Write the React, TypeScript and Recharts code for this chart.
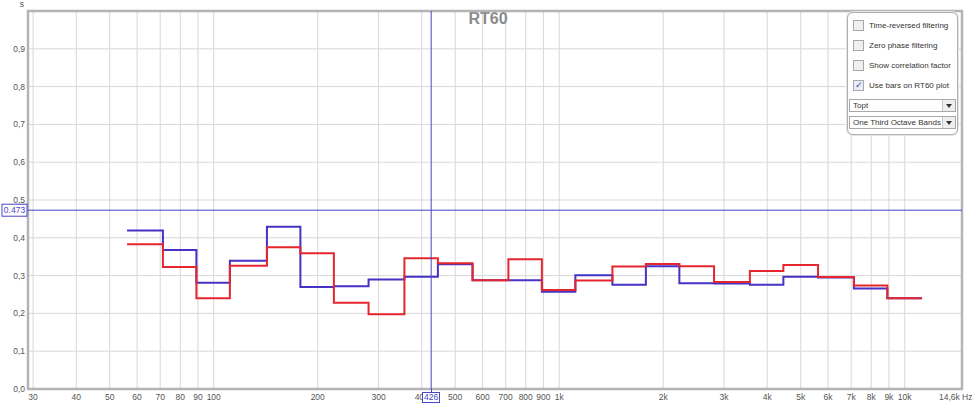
import { LineChart, Line, XAxis, YAxis, CartesianGrid, ReferenceLine, ReferenceArea } from 'recharts';

// one third octave band centres (Hz)
const bandCenters = [63, 80, 100, 125, 160, 200, 250, 315, 400, 500, 630, 800, 1000, 1250, 1600, 2000, 2500, 3150, 4000, 5000, 6300, 8000, 10000];

// RT60 per band (s)
const redRT60 = [0.383, 0.323, 0.240, 0.326, 0.375, 0.359, 0.228, 0.198, 0.346, 0.333, 0.288, 0.343, 0.262, 0.287, 0.324, 0.331, 0.325, 0.283, 0.312, 0.328, 0.296, 0.274, 0.240];
const blueRT60 = [0.419, 0.368, 0.281, 0.339, 0.429, 0.270, 0.272, 0.290, 0.297, 0.330, 0.288, 0.288, 0.257, 0.301, 0.276, 0.325, 0.280, 0.279, 0.276, 0.297, 0.295, 0.266, 0.240];

const xTicks = [30, 40, 50, 60, 70, 80, 90, 100, 200, 300, 400, 500, 600, 700, 800, 900, 1000, 2000, 3000, 4000, 5000, 6000, 7000, 8000, 9000, 10000, 14600];
const yTicks = [0, 0.1, 0.2, 0.3, 0.4, 0.5, 0.6, 0.7, 0.8, 0.9, 1];

const cursorFreq = 426;
const cursorValue = 0.473;

const options = ['Time-reversed filtering', 'Zero phase filtering', 'Show correlation factor', 'Use bars on RT60 plot'];
const checked = [false, false, false, true];
const dropdowns = ['Topt', 'One Third Octave Bands'];

// step points at the lower band edge, plus the upper edge of the last band
const data: Array<{ f: number; red: number; blue: number }> = bandCenters.map((c, i) => ({
  f: c * Math.pow(2, -1 / 6),
  red: redRT60[i],
  blue: blueRT60[i],
}));
data.push({
  f: bandCenters[bandCenters.length - 1] * Math.pow(2, 1 / 6),
  red: redRT60[redRT60.length - 1],
  blue: blueRT60[blueRT60.length - 1],
});

const FONT = '"Liberation Sans", Arial, sans-serif';
const CURSOR = '#4646c8';

// plot frame, used only to place the cursor readout box above the axis labels
const W = 975;
const H = 404;
const M = { top: 11, right: 13, bottom: 0, left: 0 };
const Y_AXIS_W = 28;
const X_AXIS_H = 15;
const X_DOMAIN = [29, 14650];
const plotLeft = M.left + Y_AXIS_W;
const plotRight = W - M.right;
const plotBottom = H - M.bottom - X_AXIS_H;
const cursorX = plotLeft + (plotRight - plotLeft) * Math.log(cursorFreq / X_DOMAIN[0]) / Math.log(X_DOMAIN[1] / X_DOMAIN[0]);

function fmtFreq(f: number) {
  if (f === 14600) return '14,6k Hz';
  if (f >= 1000) return f / 1000 + 'k';
  return String(f);
}

function XTick(props: any) {
  const { x, payload } = props;
  const last = payload.value === 14600;
  return (
    <text x={last ? x + 11 : x} y={400} textAnchor={last ? 'end' : 'middle'} fontSize={8.5} fontFamily={FONT} fill="#555">
      {fmtFreq(payload.value)}
    </text>
  );
}

function YTick(props: any) {
  const { y, payload } = props;
  const v = payload.value;
  if (v === 1) {
    return <text x={24} y={y - 4} textAnchor="end" fontSize={8.5} fontFamily={FONT} fill="#555">s</text>;
  }
  return (
    <text x={25} y={y + 3} textAnchor="end" fontSize={8.5} fontFamily={FONT} fill="#555">
      {v.toFixed(1).replace('.', ',')}
    </text>
  );
}

function ValueBox(props: any) {
  const vb = props.viewBox;
  const cy = vb.y;
  const left = vb.x;
  return (
    <g>
      <rect x={left - 26} y={cy - 6} width={25} height={12} fill="#fff" stroke={CURSOR} strokeWidth={1} />
      <text x={left - 13.5} y={cy + 3} textAnchor="middle" fontSize={8.5} fontFamily={FONT} fill={CURSOR}>{cursorValue}</text>
    </g>
  );
}

function FreqBox() {
  return (
    <>
      <div style={{ position: 'absolute', left: cursorX - 0.5, top: plotBottom, width: 1, height: 3, background: CURSOR }} />
      <div style={{
        position: 'absolute', left: cursorX - 9, top: plotBottom + 3, width: 18, height: 11, boxSizing: 'border-box',
        border: `1px solid ${CURSOR}`, background: '#fff', color: CURSOR, fontFamily: FONT, fontSize: 8.5,
        lineHeight: '9px', textAlign: 'center',
      }}>{cursorFreq}</div>
    </>
  );
}

function Panel() {
  return (
    <div style={{
      position: 'absolute', left: 847, top: 12, width: 111, height: 123, boxSizing: 'border-box',
      border: '1px solid #b0b0b0', borderRadius: 6, background: '#fff', fontFamily: FONT, fontSize: 8, color: '#333',
      boxShadow: '0 0 0 1px #e4e4e4',
    }}>
      {options.map((o, i) => (
        <div key={o} style={{ position: 'absolute', left: 5, top: 7 + i * 20, height: 11, display: 'flex', alignItems: 'center' }}>
          <div style={{
            width: 9, height: 9, border: '1px solid #a8a8a8', background: checked[i] ? '#e8ecf8' : '#f0f0f0',
            marginRight: 5, fontSize: 9, lineHeight: '9px', textAlign: 'center', color: '#3a4a9a',
          }}>{checked[i] ? '✓' : ''}</div>
          <span style={{ whiteSpace: 'nowrap' }}>{o}</span>
        </div>
      ))}
      {dropdowns.map((d, i) => (
        <div key={d} style={{
          position: 'absolute', left: 1, top: 86 + i * 17, width: 107, height: 13, boxSizing: 'border-box',
          border: '1px solid #a8a8a8', background: '#fff', display: 'flex', alignItems: 'center',
        }}>
          <span style={{ paddingLeft: 3, flex: 1, whiteSpace: 'nowrap' }}>{d}</span>
          <div style={{ width: 12, height: 11, borderLeft: '1px solid #c8c8c8', background: '#eee', display: 'flex', alignItems: 'center', justifyContent: 'center' }}>
            <div style={{ width: 0, height: 0, borderLeft: '3px solid transparent', borderRight: '3px solid transparent', borderTop: '4px solid #333' }} />
          </div>
        </div>
      ))}
    </div>
  );
}

export default function App() {
  return (
    <div style={{ position: 'absolute', left: 0, top: 0, width: W, height: H, background: '#fff' }}>
      <LineChart width={W} height={H} data={data} margin={M}>
        <CartesianGrid stroke="#d8d8d8" strokeWidth={1} />
        <XAxis
          dataKey="f"
          type="number"
          scale="log"
          domain={X_DOMAIN}
          allowDataOverflow
          ticks={xTicks}
          tick={<XTick />}
          tickLine={false}
          axisLine={false}
          height={X_AXIS_H}
          interval={0}
        />
        <YAxis
          type="number"
          domain={[0, 1]}
          ticks={yTicks}
          tick={<YTick />}
          tickLine={false}
          axisLine={false}
          width={Y_AXIS_W}
          interval={0}
        />
        <ReferenceArea x1={X_DOMAIN[0]} x2={X_DOMAIN[1]} y1={0} y2={1} fill="none" stroke="#b4b4b4" strokeWidth={2.5} ifOverflow="visible" />
        <Line type="stepAfter" dataKey="blue" stroke="#4433c4" strokeWidth={2} dot={false} isAnimationActive={false} />
        <Line type="stepAfter" dataKey="red" stroke="#e6262e" strokeWidth={2} dot={false} isAnimationActive={false} />
        <ReferenceLine x={cursorFreq} stroke={CURSOR} strokeWidth={1} />
        <ReferenceLine y={cursorValue} stroke={CURSOR} strokeWidth={1} label={(p: any) => <ValueBox {...p} />} />
        <text x={488} y={24} textAnchor="middle" fontSize={16} fontWeight="bold" fontFamily={FONT} fill="#8a8a8a">RT60</text>
      </LineChart>
      <FreqBox />
      <Panel />
    </div>
  );
}
